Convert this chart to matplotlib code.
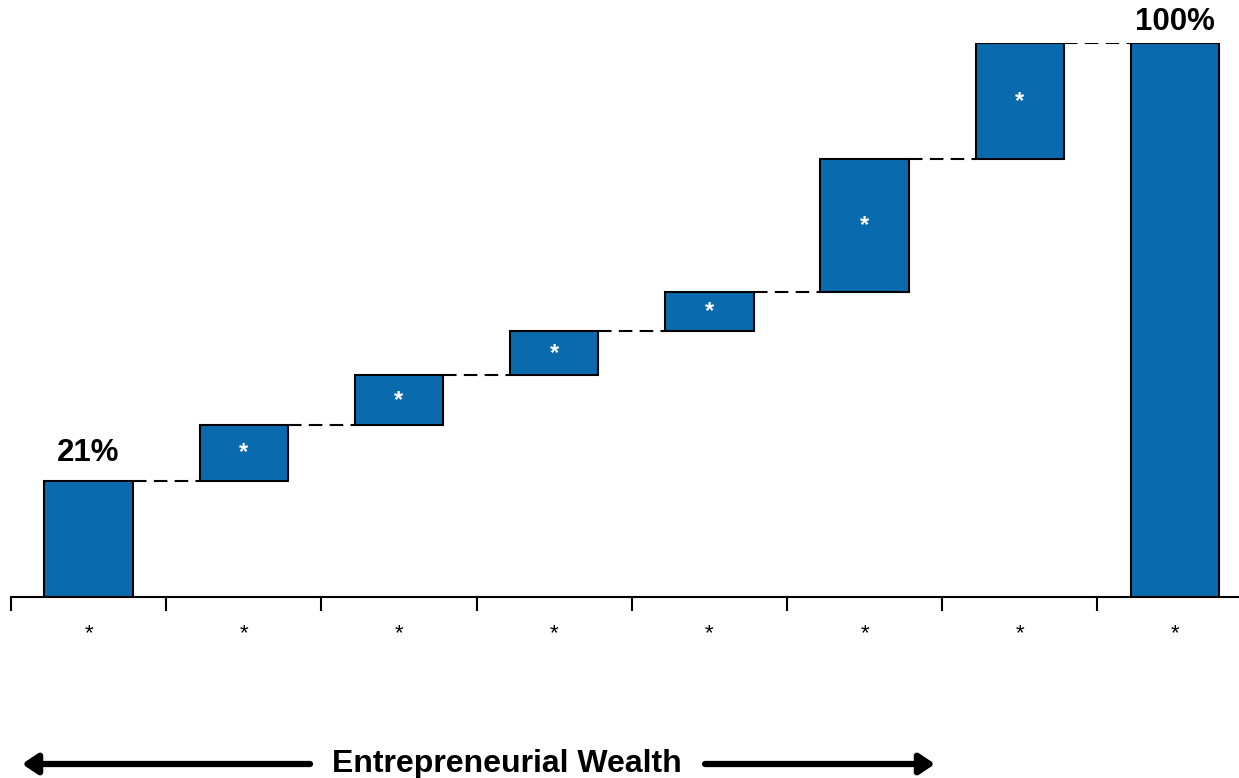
import matplotlib.pyplot as plt
import numpy as np

plt.rcParams['font.family'] = ['Liberation Sans', 'DejaVu Sans']

categories = ['*', '*', '*', '*', '*', '*', '*', '*']
steps = [21, 10, 9, 8, 7, 24, 21]
total = 100
bar_color = '#0A6AAE'

cum = np.cumsum(steps)
bottoms = np.concatenate([[0], cum[:-1], [0]])
heights = np.concatenate([steps, [total]])
tops = bottoms + heights
x = np.arange(len(categories))
w = 0.57

fig = plt.figure(figsize=(12.39, 7.78), dpi=100)
ax = fig.add_axes([11 / 1239, 181 / 778, 1228 / 1239, 554 / 778])

ax.bar(x, heights, w, bottom=bottoms, color=bar_color, edgecolor='black', linewidth=1.5, zorder=3)

# connectors between bars
for i in range(len(x) - 1):
    ax.plot([x[i] + w / 2, x[i + 1] - w / 2], [tops[i], tops[i]], color='black',
            lw=1.5, linestyle=(0, (6.5, 3.5)), zorder=2)

# labels
ax.text(x[0], tops[0] + 2.2, '%d%%' % heights[0], ha='center', va='bottom',
        fontsize=22.5, fontweight='bold', clip_on=False)
ax.text(x[-1], tops[-1] + 1.0, '%d%%' % heights[-1], ha='center', va='bottom',
        fontsize=22.5, fontweight='bold', clip_on=False)
for i in range(1, len(x) - 1):
    ax.text(x[i], bottoms[i] + heights[i] / 2, '*', ha='center', va='center',
            color='white', fontsize=17, fontweight='bold', zorder=4)

ax.set_xticks(x)
ax.set_xticklabels(categories, fontsize=16)
ax.set_xticks(np.arange(-0.5, len(x), 1), minor=True)
ax.tick_params(axis='x', which='major', length=0, pad=19)
ax.tick_params(axis='x', which='minor', length=10, width=1.5, direction='out', color='black')
ax.set_yticks([])
ax.set_xlim(-0.5, -0.5 + 1228 / 155.2)
ax.set_ylim(0, 100)
for s in ['top', 'right', 'left']:
    ax.spines[s].set_visible(False)
ax.spines['bottom'].set_linewidth(1.5)

# bottom caption with arrows
fig.text(507 / 1239, 14 / 778, 'Entrepreneurial Wealth', ha='center', va='center',
         fontsize=23, fontweight='bold')
arrow = dict(arrowstyle='-|>,head_length=0.9,head_width=0.6', color='black', lw=4.5,
             shrinkA=0, shrinkB=0)
ax.annotate('', xy=(22, 14), xycoords='figure pixels', xytext=(310, 14),
            textcoords='figure pixels', arrowprops=arrow, annotation_clip=False)
ax.annotate('', xy=(935, 14), xycoords='figure pixels', xytext=(705, 14),
            textcoords='figure pixels', arrowprops=arrow, annotation_clip=False)

fig.savefig('out.png', dpi=100)
